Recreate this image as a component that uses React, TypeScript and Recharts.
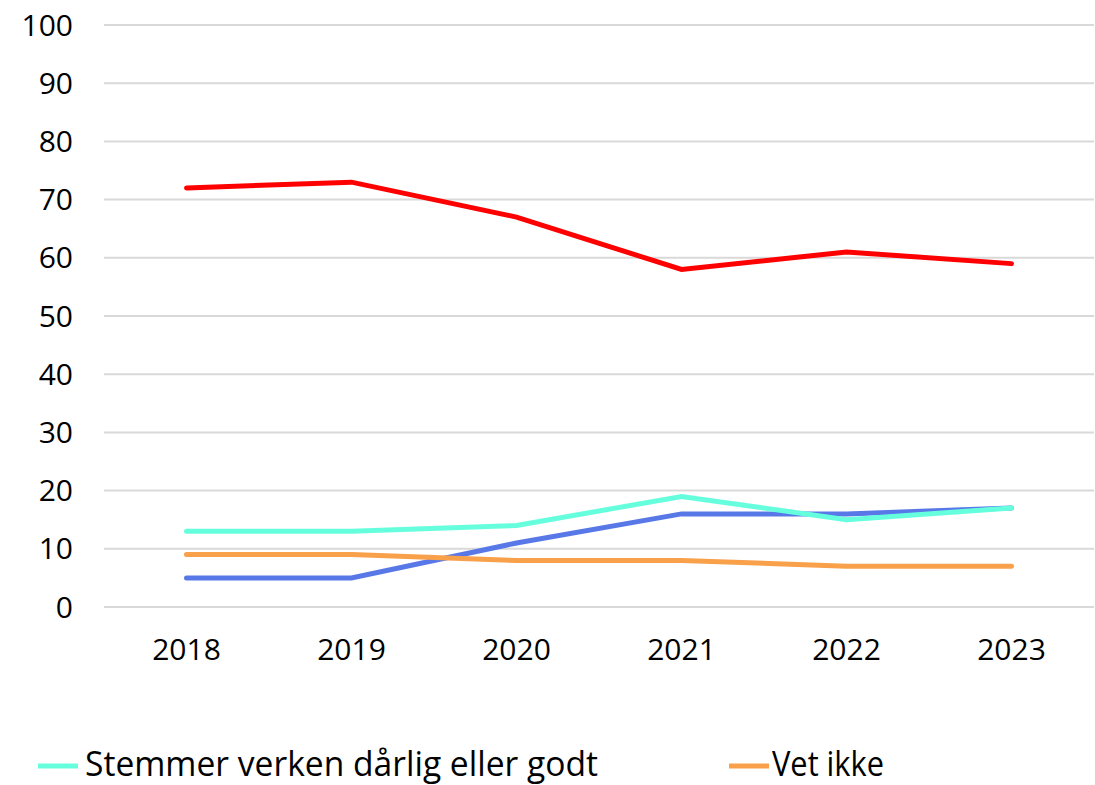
import React from 'react';
import { LineChart, Line, XAxis, YAxis, CartesianGrid } from 'recharts';

const years = ['2018', '2019', '2020', '2021', '2022', '2023'];
const stemmerDarlig = [72, 73, 67, 58, 61, 59];
const stemmerGodt = [5, 5, 11, 16, 16, 17];
const verken = [13, 13, 14, 19, 15, 17];
const vetIkke = [9, 9, 8, 8, 7, 7];
const yTicks = [0, 10, 20, 30, 40, 50, 60, 70, 80, 90, 100];

const data = years.map((y, i) => ({
  year: y,
  darlig: stemmerDarlig[i],
  godt: stemmerGodt[i],
  verken: verken[i],
  vetikke: vetIkke[i],
}));

const series = [
  { key: 'darlig', name: 'Stemmer dårlig', color: '#ff0000' },
  { key: 'godt', name: 'Stemmer godt', color: '#5878e8' },
  { key: 'vetikke', name: 'Vet ikke', color: '#f9a04a' },
  { key: 'verken', name: 'Stemmer verken dårlig eller godt', color: '#66ffde' },
];

const legendShown = ['Stemmer verken dårlig eller godt', 'Vet ikke'];
const legendPos: Record<string, { ix: number; tx: number; tl: number }> = {
  'Stemmer verken dårlig eller godt': { ix: 38, tx: 85, tl: 513 },
  'Vet ikke': { ix: 729, tx: 772, tl: 112 },
};

function ChartLegend() {
  const items = series.filter((s) => legendShown.includes(s.name));
  return (
    <svg width={1095} height={85} style={{ position: 'absolute', left: 0, top: 700, display: 'block' }}>
      {items.map((s) => {
        const pos = legendPos[s.name];
        return (
          <g key={s.name}>
            <line x1={pos.ix} x2={pos.ix + 40} y1={66} y2={66} stroke={s.color} strokeWidth={5} />
            <text
              x={pos.tx}
              y={76}
              fontFamily="'Open Sans', sans-serif"
              fontSize={34}
              fill="#000"
              textLength={pos.tl}
              lengthAdjust="spacingAndGlyphs"
            >
              {s.name}
            </text>
          </g>
        );
      })}
    </svg>
  );
}

export default function App() {
  const tickStyle = { fontFamily: "'Open Sans', sans-serif", fontSize: 30, fill: '#000' };
  return (
    <div style={{ position: 'absolute', left: 0, top: 0, width: 1095, height: 785, background: '#fff', overflow: 'hidden' }}>
      <LineChart width={1095} height={785} data={data} margin={{ top: 25, right: 1, bottom: 138, left: 0 }}>
        <CartesianGrid vertical={false} stroke="#d9d9d9" strokeWidth={2} />
        <XAxis
          dataKey="year"
          scale="band"
          axisLine={false}
          tickLine={false}
          tickSize={0}
          tickMargin={32}
          tick={tickStyle}
          height={40}
          interval={0}
        />
        <YAxis
          domain={[0, 100]}
          ticks={yTicks}
          axisLine={false}
          tickLine={false}
          tickSize={0}
          tickMargin={31}
          width={104}
          tick={tickStyle}
          interval={0}
        />
        {series.map((s) => (
          <Line
            key={s.key}
            dataKey={s.key}
            name={s.name}
            stroke={s.color}
            strokeWidth={5}
            dot={false}
            isAnimationActive={false}
            strokeLinecap="round"
          />
        ))}
      </LineChart>
      <ChartLegend />
    </div>
  );
}
